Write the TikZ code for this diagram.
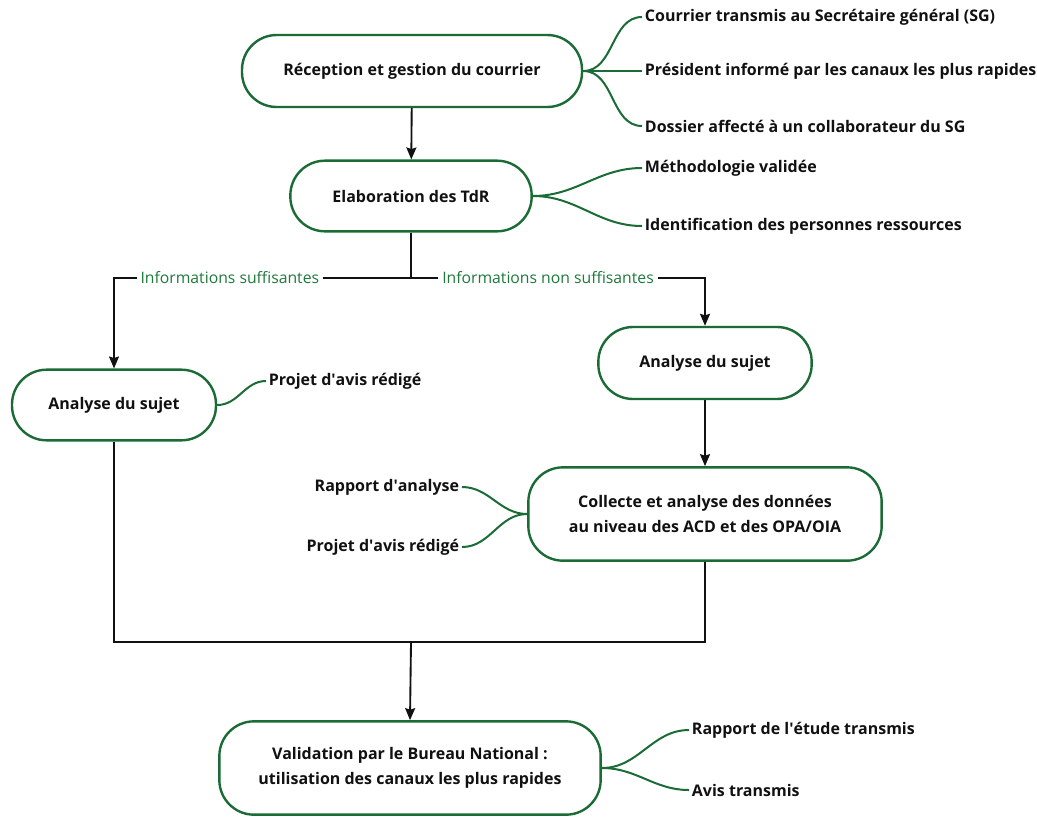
\documentclass[tikz,border=0pt]{standalone}
\usepackage{fontspec}
\setmainfont{Open Sans}
\usepackage{tikz}
\usetikzlibrary{arrows.meta,positioning}
\definecolor{boxgreen}{HTML}{1A6B35}
\definecolor{labelgreen}{HTML}{1F7A3C}
\definecolor{inkblack}{HTML}{111111}
\newcommand{\apos}{\textquotesingle}

\begin{document}
\begin{tikzpicture}[x=0.75pt, y=-0.75pt, >={Stealth[length=9pt,width=7.5pt,inset=1.2pt]},
  stage/.style={draw=boxgreen, line width=1.8pt, rounded corners=26pt, fill=white, align=center,
    font=\bfseries\fontsize{12}{19}\selectfont, text=inkblack},
  leaf/.style={font=\bfseries\fontsize{12}{14}\selectfont, text=inkblack, inner sep=2pt},
  twig/.style={draw=boxgreen, line width=1.5pt},
  flow/.style={draw=inkblack, line width=1.4pt},
  cond/.style={font=\fontsize{11.8}{14}\selectfont, text=labelgreen, fill=white, inner sep=3pt}]
\useasboundingbox (0,0) rectangle (1037,818);
% stages
\node[stage, minimum width=255pt, minimum height=54pt] (recep) at (412,71) {Réception et gestion du courrier};
\node[stage, minimum width=181pt, minimum height=53pt] (tdr) at (411,196) {Elaboration des TdR};
\node[stage, minimum width=153pt, minimum height=53pt] (sujetA) at (114,405) {Analyse du sujet};
\node[stage, minimum width=160pt, minimum height=54pt] (sujetB) at (705,363) {Analyse du sujet};
\node[stage, minimum width=265pt, minimum height=70pt] (collecte) at (705,514) {Collecte et analyse des données\\au niveau des ACD et des OPA/OIA};
\node[stage, minimum width=286pt, minimum height=70pt] (valid) at (410,768) {Validation par le Bureau National :\\utilisation des canaux les plus rapides};
% outcomes
\node[leaf, anchor=west] (r1) at (642,17) {Courrier transmis au Secrétaire général (SG)};
\node[leaf, anchor=west] (r2) at (642,71) {Président informé par les canaux les plus rapides};
\node[leaf, anchor=west] (r3) at (642,126) {Dossier affecté à un collaborateur du SG};
\node[leaf, anchor=west] (t1) at (642,168) {Méthodologie validée};
\node[leaf, anchor=west] (t2) at (642,226) {Identification des personnes ressources};
\node[leaf, anchor=west] (sa1) at (266,381) {Projet d\apos avis rédigé};
\node[leaf, anchor=east] (c1) at (462,487) {Rapport d\apos analyse};
\node[leaf, anchor=east] (c2) at (462,547) {Projet d\apos avis rédigé};
\node[leaf, anchor=west] (v1) at (689,730) {Rapport de l\apos étude transmis};
\node[leaf, anchor=west] (v2) at (689,790) {Avis transmis};
\foreach \o in {r1,r2,r3} \draw[twig] (recep.east) to[out=0, in=180] (\o.west);
\foreach \o in {t1,t2} \draw[twig] (tdr.east) to[out=0, in=180] (\o.west);
\draw[twig] (sujetA.east) to[out=0, in=180] (sa1.west);
\foreach \o in {c1,c2} \draw[twig] (collecte.west) to[out=180, in=0] (\o.east);
\foreach \o in {v1,v2} \draw[twig] (valid.east) to[out=0, in=180] (\o.west);
% flow
\coordinate (split) at (411,278);
\coordinate (merge) at (411,642);
\draw[flow, ->] (recep) -- (tdr);
\draw[flow] (tdr.south) -- (split);
\draw[flow, ->] (split) -| node[cond, pos=0.305] {Informations suffisantes} (sujetA.north);
\draw[flow, ->] (split) -| node[cond, pos=0.233] {Informations non suffisantes} (sujetB.north);
\draw[flow, ->] (sujetB) -- (collecte);
\draw[flow] (sujetA.south) |- (merge);
\draw[flow] (collecte.south) |- (merge);
\draw[flow, ->] (merge) -- (valid.north);
\end{tikzpicture}
\end{document}
